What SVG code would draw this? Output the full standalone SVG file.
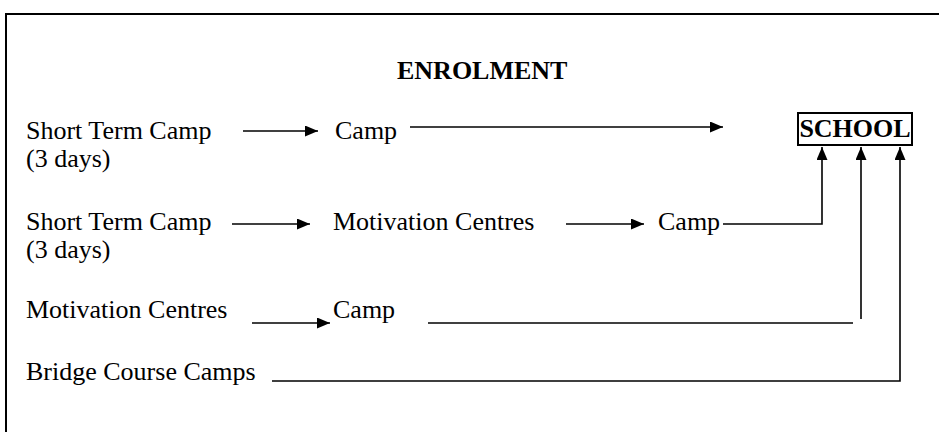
<svg xmlns="http://www.w3.org/2000/svg" width="939" height="432" viewBox="0 0 939 432">
<style>
.t{font-family:"Liberation Serif","Times New Roman",serif;font-size:26px;fill:#000}
.b{font-weight:bold}
.c{stroke:#000;stroke-width:1.6;fill:none}
.f{stroke:#000;stroke-width:2;fill:none}
</style>
<defs>
<marker id="ah" viewBox="0 0 13 11" refX="13" refY="5.5" markerWidth="13" markerHeight="11" markerUnits="userSpaceOnUse" orient="auto">
<path d="M0,0 L13,5.5 L0,11 Z" fill="#000"/>
</marker>
</defs>
<rect width="939" height="432" fill="#fff"/>
<path class="f" d="M6,432 V14 H939"/>
<g id="title"><text class="t b" x="397" y="79" font-size="25">ENROLMENT</text></g>
<g id="stc1"><text class="t" x="26" y="139">Short Term Camp</text><text class="t" x="26" y="167">(3 days)</text></g>
<g id="camp1"><text class="t" x="335" y="139">Camp</text></g>
<g id="school"><rect x="798" y="113" width="114" height="32" fill="#fff" stroke="#000" stroke-width="2"/><text class="t b" x="855" y="137" text-anchor="middle">SCHOOL</text></g>
<g id="stc2"><text class="t" x="26" y="230">Short Term Camp</text><text class="t" x="26" y="258">(3 days)</text></g>
<g id="mc2"><text class="t" x="333" y="230">Motivation Centres</text></g>
<g id="camp2"><text class="t" x="658" y="230">Camp</text></g>
<g id="mc3"><text class="t" x="26" y="318">Motivation Centres</text></g>
<g id="camp3"><text class="t" x="333" y="318">Camp</text></g>
<g id="bcc"><text class="t" x="26" y="380">Bridge Course Camps</text></g>
<g id="connectors">
<line class="c" x1="243" y1="131" x2="318" y2="131" marker-end="url(#ah)"/>
<line class="c" x1="410" y1="127" x2="723" y2="127" marker-end="url(#ah)"/>
<line class="c" x1="232" y1="224" x2="310" y2="224" marker-end="url(#ah)"/>
<line class="c" x1="566" y1="224" x2="644" y2="224" marker-end="url(#ah)"/>
<polyline class="c" points="723,224 822,224 822,147" marker-end="url(#ah)"/>
<line class="c" x1="252" y1="323" x2="330" y2="323" marker-end="url(#ah)"/>
<line class="c" x1="428" y1="323" x2="853" y2="323"/>
<line class="c" x1="861" y1="319" x2="861" y2="147" marker-end="url(#ah)"/>
<polyline class="c" points="272,381 900,381 900,147" marker-end="url(#ah)"/>
</g>
</svg>
